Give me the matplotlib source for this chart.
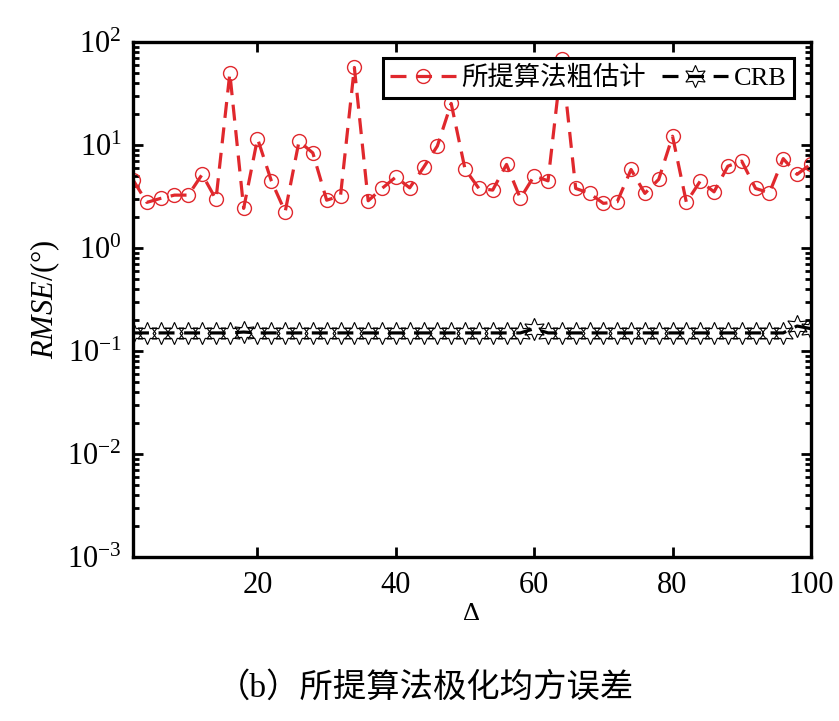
import matplotlib
matplotlib.use("Agg")
import matplotlib.pyplot as plt
import numpy as np
from matplotlib.ticker import LogLocator, NullFormatter

plt.rcParams['font.family'] = ['Liberation Serif', 'Noto Sans CJK SC']
plt.rcParams['mathtext.fontset'] = 'custom'
plt.rcParams['mathtext.rm'] = 'Liberation Serif'
plt.rcParams['mathtext.it'] = 'Liberation Serif:italic'

# data
delta = np.arange(2, 101, 2)
rmse_coarse = [4.6, 2.78, 3.04, 3.27, 3.27, 5.2, 2.97, 50, 2.43, 11.6,
               4.5, 2.25, 10.9, 8.4, 2.92, 3.22, 56.8, 2.88, 3.8, 4.9,
               3.85, 6.07, 9.8, 25.4, 5.85, 3.8, 3.66, 6.5, 3.04, 5.03,
               4.5, 68, 3.8, 3.4, 2.72, 2.82, 5.8, 3.4, 4.65, 12.2,
               2.78, 4.47, 3.52, 6.25, 7.0, 3.8, 3.44, 7.4, 5.2, 6.55]
crb = [0.15, 0.15, 0.15, 0.15, 0.15, 0.15, 0.15, 0.15, 0.153, 0.15,
       0.15, 0.15, 0.15, 0.15, 0.15, 0.15, 0.15, 0.15, 0.15, 0.15,
       0.15, 0.15, 0.15, 0.15, 0.15, 0.15, 0.15, 0.15, 0.15, 0.165,
       0.15, 0.15, 0.15, 0.15, 0.15, 0.15, 0.15, 0.15, 0.15, 0.15,
       0.15, 0.15, 0.15, 0.15, 0.15, 0.15, 0.15, 0.15, 0.175, 0.165]
labels = ['所提算法粗估计', 'CRB']
caption = '（b）所提算法极化均方误差'

red = '#e0282d'

fig = plt.figure(figsize=(8.39, 7.21), dpi=100)
ax = fig.add_axes([0.1585, 0.2275, 0.808, 0.714])

ax.semilogy(delta, rmse_coarse, linestyle=(0, (5, 3)), color=red, lw=2.3,
            marker='o', markersize=10, markerfacecolor='none',
            markeredgecolor=red, markeredgewidth=1.0, label=labels[0])
ax.semilogy(delta, crb, linestyle=(0, (5, 3)), color='black', lw=2.3,
            marker=(6, 1, 0), markersize=16, markerfacecolor='none',
            markeredgecolor='black', markeredgewidth=0.8, label=labels[1])

ax.set_xlim(2, 100)
ax.set_ylim(1e-3, 1e2)
ax.set_xticks([20, 40, 60, 80, 100])
ax.yaxis.set_major_locator(LogLocator(base=10, numticks=10))
ax.yaxis.set_minor_locator(LogLocator(base=10, subs=np.arange(2, 10), numticks=10))
ax.yaxis.set_minor_formatter(NullFormatter())
ax.tick_params(axis='both', which='both', direction='in', top=True, right=True,
               labelsize=22, width=2)
ax.tick_params(which='major', length=7)
ax.tick_params(axis='x', which='major', pad=10)
ax.tick_params(axis='y', which='major', pad=8)
ax.tick_params(which='minor', length=4)
for s in ax.spines.values():
    s.set_linewidth(2.4)

ax.set_xlabel('Δ', fontsize=19, labelpad=2)
ax.set_ylabel(r'$\mathit{RMSE}$/(°)', fontsize=22, labelpad=4)

leg = ax.legend(loc='upper right', ncol=2, fontsize=19, frameon=True,
                fancybox=False, framealpha=1, edgecolor='black',
                bbox_to_anchor=(0.983, 0.98), borderpad=0.3,
                handlelength=2.5, columnspacing=0.6, handletextpad=0.2,
                borderaxespad=0.2)
leg.get_frame().set_linewidth(2.2)

fig.text(0.507, 0.046, caption, ha='center', va='center', fontsize=24,
         family=['Liberation Serif', 'Noto Sans CJK SC'])

fig.savefig('out.png', dpi=100)
